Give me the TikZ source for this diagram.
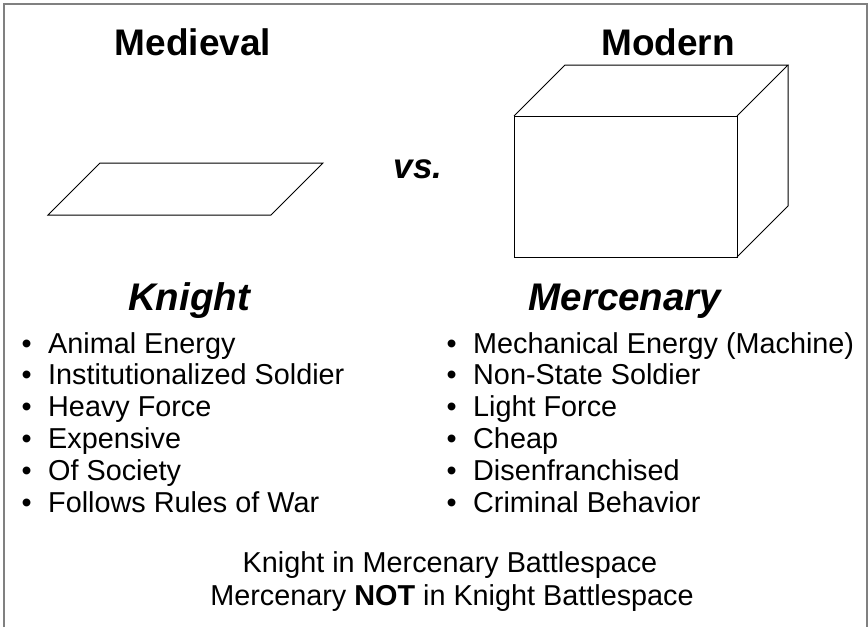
\documentclass[tikz,border=0pt]{standalone}
\usepackage{fontspec}
\setmainfont{Liberation Sans}
\usetikzlibrary{positioning}
\definecolor{framegray}{HTML}{808080}

\begin{document}
\begin{tikzpicture}[x=1pt, y=-1pt,
  head/.style={inner sep=0pt, anchor=base, font=\fontsize{37}{40}\selectfont\bfseries},
  role/.style={inner sep=0pt, anchor=base, font=\fontsize{38.5}{40}\selectfont\bfseries\itshape},
  item/.style={inner sep=0pt, anchor=base west, font=\fontsize{28.8}{32}\selectfont},
  dot/.style={item},
  note/.style={inner sep=0pt, anchor=base, font=\fontsize{28.8}{32}\selectfont},
  outline/.style={line width=1pt, line join=miter}]
  \useasboundingbox (0,0) rectangle (868,627);

  % Rahmen (unten offen)
  \draw[framegray, line width=2pt] (3.5,627) -- (3.5,4) -- (866.5,4) -- (866.5,627);

  % Ueberschriften
  \node[head] (medieval) at (193,55) {Medieval};
  \node[head] (modern) at (668,55) {Modern};
  \node[role, font=\fontsize{35}{40}\selectfont\bfseries\itshape] (vs) at (418,178) {vs.};

  % Flache Ebene
  \draw[outline] (48,215) -- (100,163) -- (323,163) -- (271,215) -- cycle;

  % Wuerfel
  \draw[outline] (514,116) rectangle (737,257);
  \draw[outline] (514,116) -- (565,65) -- (788,65) -- (737,116);
  \draw[outline] (737,257) -- (788,206) -- (788,65);

  % Rollen
  \node[role] (knight) at (189,310) {Knight};
  \node[role] (merc) at (625,310) {Mercenary};

  % Merkmale links
  \foreach \txt [count=\i] in {Animal Energy, Institutionalized Soldier, Heavy Force,
                               Expensive, Of Society, Follows Rules of War} {
    \node[dot] (kdot\i) at (21.5, {353+31.8*(\i-1)}) {\textbullet};
    \node[item] (k\i) at (48, {353+31.8*(\i-1)}) {\txt};
  }

  % Merkmale rechts
  \foreach \txt [count=\i] in {Mechanical Energy (Machine), Non-State Soldier, Light Force,
                               Cheap, Disenfranchised, Criminal Behavior} {
    \node[dot] (mdot\i) at (446.5, {353+31.8*(\i-1)}) {\textbullet};
    \node[item] (m\i) at (473, {353+31.8*(\i-1)}) {\txt};
  }

  % Fazit
  \node[note] (line1) at (450,572) {Knight in Mercenary Battlespace};
  \node[note] (line2) at (452,605) {Mercenary \textbf{NOT} in Knight Battlespace};
\end{tikzpicture}
\end{document}
